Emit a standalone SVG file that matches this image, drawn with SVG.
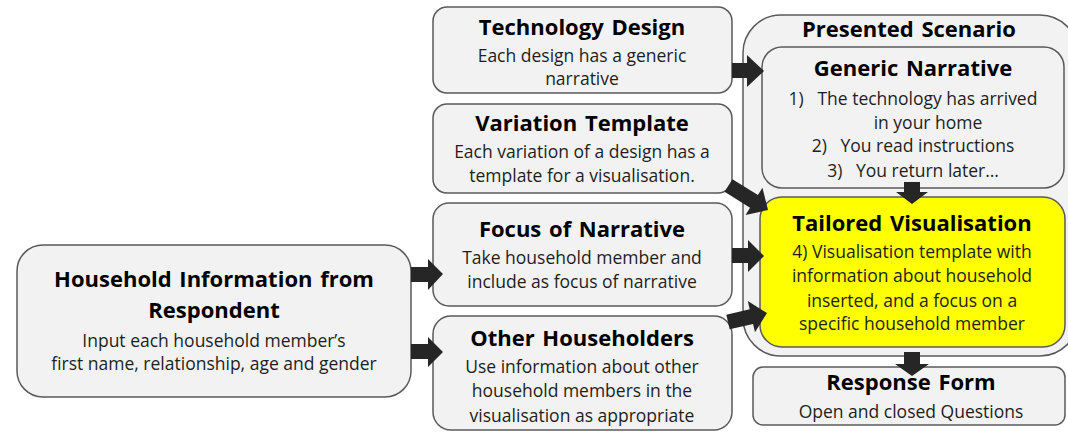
<svg xmlns="http://www.w3.org/2000/svg" width="1068" height="433" viewBox="0 0 1068 433">
<style>
.box{fill:#f2f2f2;stroke:#5a5a5a;stroke-width:1.5}
.yel{fill:#ffff00;stroke:#5a5a5a;stroke-width:1.5}
.t{font-family:"Open Sans","Noto Sans",sans-serif;font-weight:bold;font-size:22px;fill:#000;text-anchor:middle;word-spacing:2px}
.b{font-family:"Open Sans","Noto Sans",sans-serif;font-size:17.5px;fill:#1e1e1e;text-anchor:middle;white-space:pre}
.arrow{fill:#262626}
</style>
<rect width="1068" height="433" fill="#ffffff"/>
<g id="presented-scenario">
<rect class="box" x="743" y="15" width="335" height="341" rx="38"/>
<text class="t" x="909" y="37">Presented Scenario</text>
</g>
<g id="technology-design">
<rect class="box" x="433" y="7" width="299" height="86" rx="14"/>
<text class="t" x="582" y="35">Technology Design</text>
<text class="b" x="582" y="62">Each design has a generic</text>
<text class="b" x="582" y="85">narrative</text>
</g>
<g id="variation-template">
<rect class="box" x="433" y="104" width="299" height="89" rx="14"/>
<text class="t" x="582" y="131">Variation Template</text>
<text class="b" x="582" y="158">Each variation of a design has a</text>
<text class="b" x="582" y="182">template for a visualisation.</text>
</g>
<g id="focus-of-narrative">
<rect class="box" x="433" y="203" width="299" height="103" rx="16"/>
<text class="t" x="582" y="237">Focus of Narrative</text>
<text class="b" x="582" y="264">Take household member and</text>
<text class="b" x="582" y="288">include as focus of narrative</text>
</g>
<g id="other-householders">
<rect class="box" x="433" y="316" width="299" height="114" rx="18"/>
<text class="t" x="582" y="346">Other Householders</text>
<text class="b" x="582" y="373">Use information about other</text>
<text class="b" x="582" y="397">household members in the</text>
<text class="b" x="582" y="422">visualisation as appropriate</text>
</g>
<g id="household-information">
<rect class="box" x="17" y="245" width="394" height="152" rx="26"/>
<text class="t" x="214" y="287">Household Information from</text>
<text class="t" x="214" y="318">Respondent</text>
<text class="b" x="214" y="347">Input each household member’s</text>
<text class="b" x="214" y="370">first name, relationship, age and gender</text>
</g>
<g id="generic-narrative">
<rect class="box" x="762" y="47" width="302" height="141" rx="20"/>
<text class="t" x="913" y="76">Generic Narrative</text>
<text class="b" x="913" y="105" xml:space="preserve">1)   The technology has arrived</text>
<text class="b" x="928" y="129">in your home</text>
<text class="b" x="913" y="152" xml:space="preserve">2)   You read instructions</text>
<text class="b" x="913" y="177" xml:space="preserve">3)   You return later…</text>
</g>
<g id="tailored-visualisation">
<rect class="yel" x="760" y="197" width="305" height="150" rx="22"/>
<text class="t" x="912" y="231">Tailored Visualisation</text>
<text class="b" x="912" y="258">4) Visualisation template with</text>
<text class="b" x="912" y="282">information about household</text>
<text class="b" x="912" y="307">inserted, and a focus on a</text>
<text class="b" x="912" y="330">specific household member</text>
</g>
<g id="response-form">
<rect class="box" x="753" y="367" width="312" height="58" rx="10"/>
<text class="t" x="911" y="390">Response Form</text>
<text class="b" x="911" y="418">Open and closed Questions</text>
</g>
<g id="connectors">
<polygon class="arrow" points="732,63 747,63 747,55 764,71 747,87 747,78 732,78"/>
<polygon class="arrow" points="732,248 748,248 748,240 764,256 748,272 748,263 732,263"/>
<polygon class="arrow" points="411,267 428,267 428,259 443,274 428,290 428,282 411,282"/>
<polygon class="arrow" points="411,344 428,344 428,337 443,352 428,367 428,359 411,359"/>
<polygon class="arrow" transform="translate(728.5,185.5) rotate(31.8)" points="0,-7.5 30,-7.5 30,-16 46.5,0 30,16 30,7.5 0,7.5"/>
<polygon class="arrow" transform="translate(728,322) rotate(-13)" points="0,-7.5 24,-7.5 24,-16 40,0 24,16 24,7.5 0,7.5"/>
<polygon class="arrow" points="904,182 920,182 920,192 928,192 912,204 896,192 904,192"/>
<polygon class="arrow" points="904,352 920,352 920,364 929,364 912,376 895,364 904,364"/>
</g>
</svg>
